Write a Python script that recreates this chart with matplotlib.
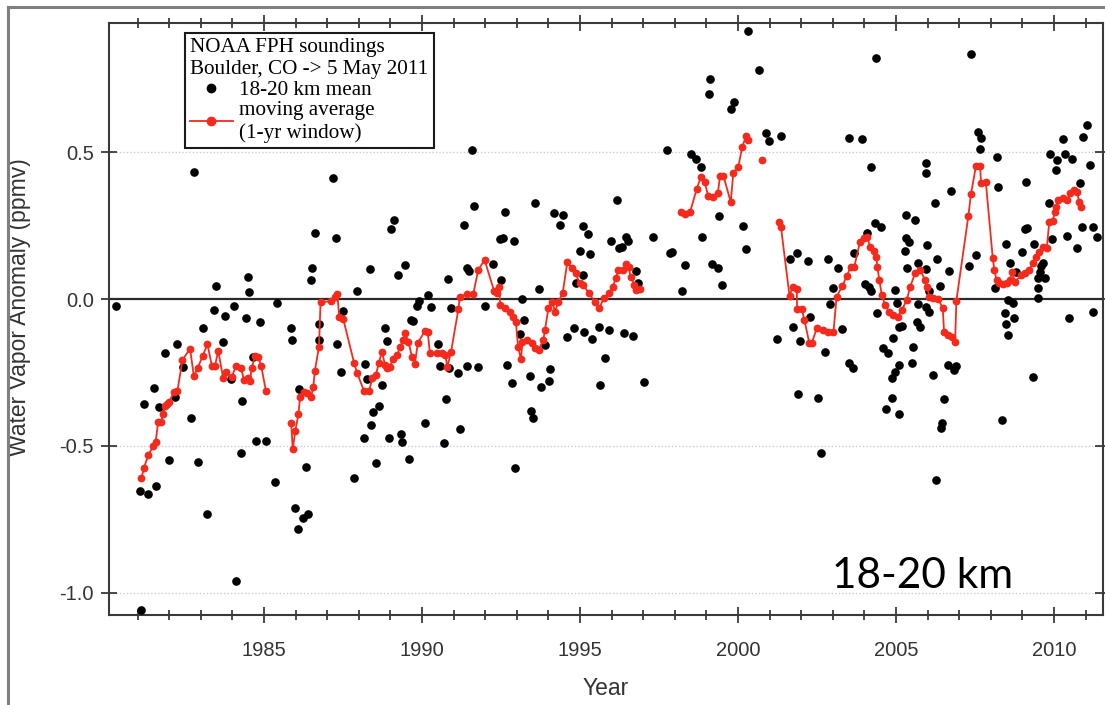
import matplotlib
matplotlib.use("Agg")
import matplotlib.pyplot as plt
from matplotlib.lines import Line2D
from matplotlib.ticker import FormatStrFormatter, MultipleLocator

plt.rcParams["axes.unicode_minus"] = False
plt.rcParams["font.family"] = ["Liberation Sans", "DejaVu Sans"]

# ---- 18-20 km mean water vapour anomaly from individual soundings (ppmv) ----
mean_years = [
    1980.31, 1981.07, 1981.12, 1981.20, 1981.34, 1981.53, 1981.58, 1981.68, 1981.87, 1981.98,
    1982.18, 1982.26, 1982.43, 1982.69, 1982.78, 1982.91, 1983.06, 1983.20, 1983.43, 1983.49,
    1983.71, 1983.77, 1983.96, 1984.06, 1984.11, 1984.26, 1984.31, 1984.43, 1984.49, 1984.53,
    1984.66, 1984.76, 1984.88, 1985.07, 1985.35, 1985.41, 1985.85, 1985.90, 1985.99, 1986.08,
    1986.10, 1986.23, 1986.32, 1986.40, 1986.49, 1986.52, 1986.61, 1986.73, 1986.74, 1987.18,
    1987.27, 1987.31, 1987.43, 1987.51, 1987.86, 1987.94, 1988.17, 1988.21, 1988.26, 1988.35,
    1988.40, 1988.45, 1988.55, 1988.65, 1988.72, 1988.84, 1988.90, 1988.95, 1989.02, 1989.11,
    1989.23, 1989.33, 1989.36, 1989.47, 1989.58, 1989.66, 1989.72, 1989.85, 1989.91, 1990.09,
    1990.18, 1990.28, 1990.50, 1990.57, 1990.69, 1990.75, 1990.81, 1990.84, 1990.91, 1991.15,
    1991.21, 1991.34, 1991.42, 1991.43, 1991.49, 1991.59, 1991.66, 1991.78, 1991.98, 1992.26,
    1992.47, 1992.51, 1992.55, 1992.64, 1992.69, 1992.84, 1992.91, 1992.95, 1993.11, 1993.17,
    1993.24, 1993.43, 1993.46, 1993.50, 1993.58, 1993.69, 1993.76, 1993.88, 1994.03, 1994.05,
    1994.19, 1994.36, 1994.45, 1994.60, 1994.81, 1994.86, 1994.99, 1995.09, 1995.09, 1995.13,
    1995.25, 1995.33, 1995.37, 1995.61, 1995.64, 1995.78, 1995.91, 1995.97, 1996.16, 1996.24,
    1996.32, 1996.40, 1996.44, 1996.51, 1996.68, 1996.77, 1996.83, 1997.03, 1997.32, 1997.74,
    1997.86, 1997.90, 1998.22, 1998.32, 1998.50, 1998.68, 1998.82, 1998.87, 1999.08, 1999.12,
    1999.18, 1999.36, 1999.40, 1999.50, 1999.77, 1999.87, 2000.16, 2000.26, 2000.31, 2000.66,
    2000.87, 2000.99, 2001.22, 2001.37, 2001.66, 2001.73, 2001.86, 2001.89, 2001.97, 2002.23,
    2002.28, 2002.54, 2002.64, 2002.75, 2002.85, 2002.91, 2003.00, 2003.16, 2003.28, 2003.52,
    2003.52, 2003.63, 2003.68, 2003.91, 2004.03, 2004.09, 2004.16, 2004.20, 2004.21, 2004.34,
    2004.38, 2004.39, 2004.52, 2004.58, 2004.68, 2004.75, 2004.86, 2004.86, 2004.92, 2004.97,
    2004.98, 2005.03, 2005.08, 2005.10, 2005.11, 2005.19, 2005.29, 2005.31, 2005.31, 2005.36,
    2005.40, 2005.50, 2005.53, 2005.60, 2005.66, 2005.71, 2005.71, 2005.77, 2005.95, 2005.96,
    2005.96, 2005.96, 2005.97, 2006.04, 2006.05, 2006.18, 2006.24, 2006.28, 2006.31, 2006.38,
    2006.41, 2006.46, 2006.52, 2006.66, 2006.68, 2006.73, 2006.85, 2006.89, 2007.32, 2007.37,
    2007.54, 2007.58, 2007.66, 2007.69, 2008.13, 2008.18, 2008.24, 2008.34, 2008.46, 2008.48,
    2008.48, 2008.54, 2008.55, 2008.62, 2008.69, 2008.73, 2008.80, 2009.00, 2009.07, 2009.12,
    2009.16, 2009.32, 2009.37, 2009.48, 2009.49, 2009.50, 2009.55, 2009.58, 2009.64, 2009.72,
    2009.85, 2009.87, 2009.95, 2010.05, 2010.08, 2010.30, 2010.35, 2010.41, 2010.48, 2010.56,
    2010.72, 2010.83, 2010.88, 2010.93, 2011.04, 2011.14, 2011.24, 2011.24, 2011.35,
]
mean_vals = [
    -0.023, -0.652, -1.058, -0.357, -0.664, -0.303, -0.636, -0.366, -0.183, -0.549,
    -0.332, -0.153, -0.232, -0.406, 0.433, -0.553, -0.100, -0.732, -0.037, 0.045,
    -0.145, -0.057, -0.273, -0.023, -0.959, -0.525, -0.347, -0.066, 0.076, 0.024,
    -0.196, -0.482, -0.078, -0.482, -0.622, -0.013, -0.100, -0.141, -0.710, -0.783,
    -0.305, -0.744, -0.570, -0.732, 0.064, 0.107, 0.223, -0.140, -0.086, 0.410,
    0.209, -0.152, -0.250, -0.040, -0.608, 0.027, -0.474, -0.222, -0.272, 0.103,
    -0.429, -0.383, -0.557, -0.365, -0.292, -0.097, -0.144, -0.472, 0.237, 0.269,
    0.083, -0.459, -0.486, 0.116, -0.543, -0.072, -0.074, -0.023, -0.006, -0.423,
    0.015, -0.026, -0.154, -0.229, -0.490, -0.340, 0.068, -0.234, -0.031, -0.253,
    -0.442, 0.251, 0.104, -0.228, 0.095, 0.508, 0.317, -0.232, -0.024, 0.119,
    0.205, 0.064, 0.206, 0.297, -0.226, -0.286, 0.198, -0.574, -0.118, 0.001,
    -0.073, -0.263, -0.380, -0.404, 0.326, 0.035, -0.299, -0.155, -0.278, -0.239,
    0.294, 0.253, 0.286, -0.129, -0.099, 0.056, 0.162, 0.247, 0.082, -0.111,
    0.220, 0.153, -0.135, -0.094, -0.294, -0.202, -0.107, 0.198, 0.337, 0.172,
    0.177, -0.117, 0.210, 0.197, -0.127, 0.095, 0.053, -0.281, 0.212, 0.508,
    0.156, 0.159, 0.028, 0.117, 0.494, 0.475, 0.450, 0.211, 0.698, 0.748,
    0.119, 0.105, 0.282, 0.049, 0.646, 0.669, 0.247, 0.170, 0.913, 0.780,
    0.564, 0.537, -0.136, 0.553, 0.135, -0.094, 0.155, -0.323, -0.143, 0.128,
    -0.060, -0.338, -0.525, -0.180, 0.137, -0.017, 0.037, 0.107, -0.103, 0.548,
    -0.217, -0.235, 0.158, 0.544, 0.050, 0.223, 0.042, 0.028, 0.450, 0.260,
    0.819, -0.046, 0.246, -0.168, -0.375, -0.185, -0.270, -0.338, -0.134, -0.247,
    0.031, -0.015, -0.392, -0.224, -0.094, -0.092, 0.164, 0.286, 0.206, 0.105,
    0.194, -0.217, -0.164, 0.269, -0.077, 0.124, -0.017, -0.094, 0.101, 0.463,
    0.430, -0.028, 0.184, -0.043, 0.028, -0.258, 0.325, -0.616, 0.135, 0.045,
    -0.440, -0.423, -0.339, -0.224, 0.096, 0.368, -0.241, -0.227, 0.112, 0.833,
    0.150, 0.567, 0.509, 0.547, 0.036, 0.484, 0.380, -0.412, -0.049, 0.186,
    -0.085, -0.003, -0.121, 0.121, -0.013, -0.064, 0.093, 0.161, 0.237, 0.399,
    0.243, -0.264, 0.187, 0.070, 0.036, 0.004, 0.093, 0.112, 0.123, 0.070,
    0.326, 0.495, 0.203, 0.439, 0.473, 0.544, 0.495, 0.215, -0.066, 0.478,
    0.172, 0.396, 0.246, 0.552, 0.592, 0.455, 0.246, -0.044, 0.212,
]

# ---- 1-yr moving average, one list pair per continuous stretch ----
avg_years_1981 = [
    1981.12, 1981.20, 1981.34, 1981.50, 1981.57, 1981.65, 1981.75, 1981.81, 1981.87, 1981.93,
    1981.99, 1982.16, 1982.26, 1982.42, 1982.66, 1982.78, 1982.91, 1983.06, 1983.21, 1983.35,
    1983.45, 1983.55, 1983.71, 1983.81, 1983.98, 1984.11, 1984.27, 1984.37, 1984.48, 1984.56,
    1984.61, 1984.72, 1984.82, 1984.91, 1985.06,
]
avg_vals_1981 = [
    -0.610, -0.575, -0.530, -0.500, -0.485, -0.420, -0.417, -0.390, -0.363, -0.357,
    -0.350, -0.317, -0.313, -0.207, -0.169, -0.262, -0.233, -0.193, -0.154, -0.227,
    -0.227, -0.176, -0.270, -0.250, -0.265, -0.229, -0.235, -0.276, -0.270, -0.280,
    -0.234, -0.194, -0.198, -0.227, -0.312,
]

avg_years_1986 = [
    1985.86, 1985.91, 1985.99, 1986.09, 1986.14, 1986.28, 1986.37, 1986.49, 1986.56, 1986.61,
    1986.74, 1986.79, 1987.13, 1987.25, 1987.32, 1987.38, 1987.51, 1987.85, 1987.95, 1988.17,
    1988.32, 1988.43, 1988.54, 1988.63, 1988.73, 1988.83, 1988.89, 1988.99, 1989.07, 1989.22,
    1989.30, 1989.41, 1989.47, 1989.57, 1989.68, 1989.77, 1989.87, 1990.09, 1990.18, 1990.25,
    1990.46, 1990.62, 1990.74, 1990.80, 1990.92, 1991.15, 1991.20, 1991.41, 1991.62, 1991.78,
    1991.98, 1992.28, 1992.38, 1992.45, 1992.47, 1992.62, 1992.78, 1992.89, 1992.97, 1993.04,
    1993.13, 1993.18, 1993.31, 1993.47, 1993.58, 1993.69, 1993.84, 1993.89, 1994.00, 1994.12,
    1994.21, 1994.31, 1994.45, 1994.60, 1994.74, 1994.86, 1994.99, 1995.10, 1995.29, 1995.47,
    1995.61, 1995.76, 1995.93, 1996.03, 1996.14, 1996.21, 1996.37, 1996.45, 1996.54, 1996.60,
    1996.72, 1996.77, 1996.90,
]
avg_vals_1986 = [
    -0.421, -0.511, -0.448, -0.392, -0.334, -0.317, -0.319, -0.334, -0.298, -0.244,
    -0.162, -0.011, -0.007, 0.008, 0.016, -0.060, -0.069, -0.217, -0.253, -0.314,
    -0.314, -0.270, -0.259, -0.219, -0.179, -0.224, -0.236, -0.230, -0.205, -0.190,
    -0.164, -0.139, -0.117, -0.145, -0.196, -0.221, -0.149, -0.109, -0.111, -0.185,
    -0.185, -0.183, -0.190, -0.232, -0.179, -0.035, 0.008, 0.016, 0.016, 0.099,
    0.133, 0.028, 0.021, 0.042, -0.020, -0.032, -0.043, -0.060, -0.077, -0.162,
    -0.205, -0.145, -0.139, -0.151, -0.168, -0.173, -0.139, -0.105, -0.032, -0.009,
    -0.043, -0.009, 0.019, 0.127, 0.104, 0.087, 0.053, 0.048, 0.019, -0.009,
    -0.030, 0.004, 0.019, 0.042, 0.070, 0.099, 0.099, 0.119, 0.110, 0.076,
    0.048, 0.031, 0.033,
]

avg_years_1998 = [
    1998.20, 1998.32, 1998.48, 1998.69, 1998.82, 1998.94, 1999.06, 1999.22, 1999.36, 1999.43,
    1999.54, 1999.77, 1999.85, 2000.01, 2000.13, 2000.25, 2000.33,
]
avg_vals_1998 = [
    0.296, 0.288, 0.295, 0.373, 0.414, 0.399, 0.350, 0.348, 0.359, 0.418,
    0.419, 0.329, 0.428, 0.450, 0.516, 0.554, 0.541,
]

avg_years_2000 = [2000.75]
avg_vals_2000 = [0.472]

avg_years_2001 = [
    2001.29, 2001.36, 2001.63, 2001.73, 2001.86, 2001.87, 2002.02, 2002.10, 2002.26, 2002.33,
    2002.49, 2002.70, 2002.86, 2003.02, 2003.12, 2003.30, 2003.44, 2003.56, 2003.68, 2003.86,
    2003.99, 2004.09, 2004.18, 2004.29, 2004.37, 2004.41, 2004.47, 2004.55, 2004.65, 2004.79,
    2004.92, 2005.05, 2005.19, 2005.34, 2005.45, 2005.60, 2005.76, 2005.92, 2005.99, 2006.05,
    2006.18, 2006.34, 2006.48, 2006.52, 2006.66, 2006.76, 2006.87, 2006.91, 2007.29, 2007.37,
    2007.53, 2007.66, 2007.69, 2007.84, 2008.06, 2008.11, 2008.18, 2008.27, 2008.39, 2008.50,
    2008.61, 2008.66, 2008.77, 2008.96, 2009.08, 2009.22, 2009.32, 2009.43, 2009.53, 2009.64,
    2009.77, 2009.85, 2009.96, 2010.03, 2010.06, 2010.13, 2010.30, 2010.42, 2010.51, 2010.62,
    2010.72, 2010.80, 2010.85,
]
avg_vals_2001 = [
    0.262, 0.244, 0.010, 0.042, 0.033, -0.035, -0.035, -0.071, -0.151, -0.151,
    -0.100, -0.105, -0.111, -0.113, 0.008, 0.044, 0.078, 0.108, 0.110, 0.195,
    0.206, 0.210, 0.178, 0.164, 0.144, 0.110, 0.065, 0.014, -0.020, -0.043,
    -0.054, -0.060, -0.037, -0.003, 0.042, 0.087, 0.099, 0.065, 0.042, 0.008,
    0.002, -0.001, -0.032, -0.111, -0.122, -0.130, -0.145, -0.006, 0.283, 0.356,
    0.453, 0.453, 0.396, 0.399, 0.141, 0.099, 0.065, 0.053, 0.051, 0.053,
    0.065, 0.093, 0.059, 0.082, 0.087, 0.099, 0.121, 0.144, 0.161, 0.178,
    0.172, 0.263, 0.266, 0.297, 0.312, 0.337, 0.343, 0.337, 0.360, 0.371,
    0.365, 0.331, 0.314,
]

avg_segments = [
    (avg_years_1981, avg_vals_1981),
    (avg_years_1986, avg_vals_1986),
    (avg_years_1998, avg_vals_1998),
    (avg_years_2000, avg_vals_2000),
    (avg_years_2001, avg_vals_2001),
]

year_ticks = [1985, 1990, 1995, 2000, 2005, 2010]
anomaly_ticks = [-1.0, -0.5, 0.0, 0.5]

TEXT = "#333333"
RED = "#f52a1c"

fig = plt.figure(figsize=(11.05, 7.05), dpi=100)
fig.patch.set_facecolor("white")
ax = fig.add_axes([109 / 1105, 90 / 705, 994 / 1105, 592 / 705])

ax.set_xlim(1980.095, 2011.55)
ax.set_ylim(-1.075, 0.939)

# reference lines
for v in (0.5, -0.5, -1.0):
    ax.axhline(v, color="#c9c9f4", lw=1.0, ls=(0, (1, 1.5)), zorder=0)
ax.axhline(0.0, color="#2a2a2a", lw=1.6, zorder=1)

# individual soundings
ax.plot(mean_years, mean_vals, ls="none", marker="o", ms=5.2,
        mfc="black", mec="black", zorder=3)

# moving average
for yrs, vals in avg_segments:
    ax.plot(yrs, vals, color=RED, lw=1.3, marker="o", ms=4.6,
            mfc=RED, mec=RED, zorder=4)

# axes styling
for side in ("left", "right", "top", "bottom"):
    ax.spines[side].set_color("#3a3a3a")
    ax.spines[side].set_linewidth(1.5)

ax.set_xticks(year_ticks)
ax.xaxis.set_minor_locator(MultipleLocator(1))
ax.set_yticks(anomaly_ticks)
ax.yaxis.set_major_formatter(FormatStrFormatter("%.1f"))
ax.tick_params(which="both", direction="inout", top=True, right=True,
               colors="#2a2a2a", labelcolor=TEXT, labelsize=14.5, width=1.2)
ax.tick_params(which="major", length=12)
ax.tick_params(which="minor", length=7)
ax.tick_params(axis="x", which="major", pad=13)
ax.tick_params(axis="y", which="major", pad=5)

ax.set_xlabel("Year", fontsize=16.5, color=TEXT)
ax.xaxis.set_label_coords(0.5, -0.105)
ax.set_ylabel("Water Vapor Anomaly (ppmv)", fontsize=16.5, color=TEXT)
ax.yaxis.set_label_coords(-0.078, 0.52)

# legend
leg_handles = [
    Line2D([], [], ls="none", marker="o", ms=6, mfc="black", mec="black"),
    Line2D([], [], color=RED, lw=1.3, marker="o", ms=6, mfc=RED, mec=RED),
]
leg = ax.legend(leg_handles, ["18-20 km mean", "moving average\n(1-yr window)"],
                title="NOAA FPH soundings\nBoulder, CO -> 5 May 2011",
                loc="upper left", bbox_to_anchor=(185 / 1105, 1 - 33 / 705),
                bbox_transform=fig.transFigure, borderaxespad=0,
                prop={"family": "Liberation Serif", "size": 15.2},
                title_fontproperties={"family": "Liberation Serif", "size": 15.2},
                alignment="left", frameon=True, fancybox=False, shadow=False,
                handlelength=2.0, handletextpad=0.3, borderpad=0.25,
                labelspacing=0.05, framealpha=1)
leg.get_frame().set_edgecolor("#1a1a1a")
leg.get_frame().set_linewidth(1.5)
leg.set_zorder(6)

# altitude band annotation
fig.text(832 / 1105, 1 - 588 / 705, "18-20 km", family="Lato", fontsize=30.5,
         color="black", ha="left", va="baseline")

# slide frame
fig.add_artist(Line2D([8 / 1105, 8 / 1105], [0, 1 - 7 / 705],
                      transform=fig.transFigure, color="#808080", lw=2.2))
fig.add_artist(Line2D([8 / 1105, 1], [1 - 7 / 705, 1 - 7 / 705],
                      transform=fig.transFigure, color="#808080", lw=2.2))

fig.savefig("out.png", dpi=100, facecolor="white")
